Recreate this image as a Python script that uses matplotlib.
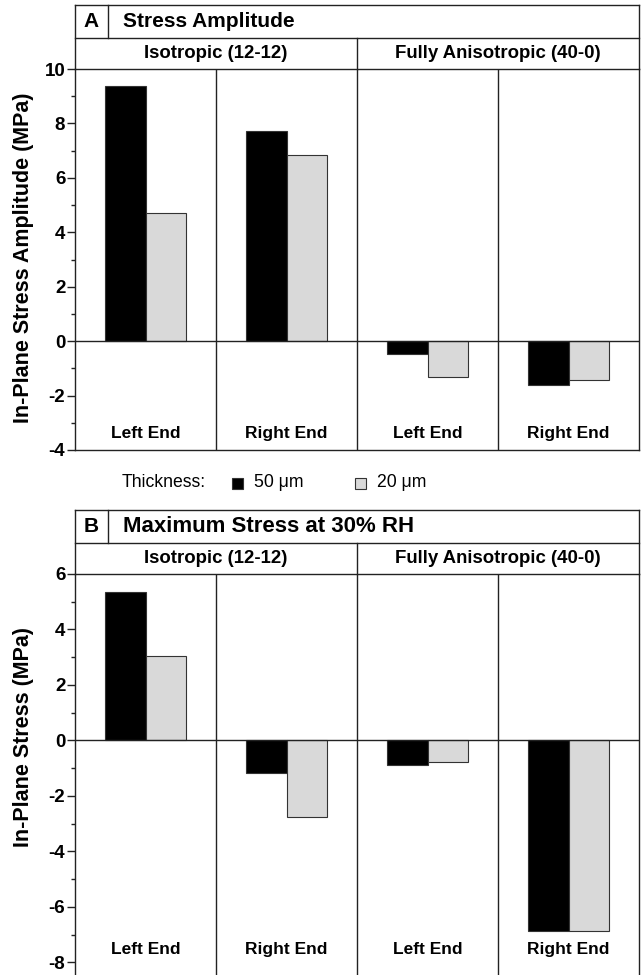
import matplotlib
matplotlib.use("Agg")
import matplotlib.pyplot as plt
from matplotlib.lines import Line2D
from matplotlib.patches import Rectangle
from matplotlib.ticker import MultipleLocator

plt.rcParams['font.family'] = ['Liberation Sans', 'DejaVu Sans']
plt.rcParams['axes.unicode_minus'] = False

# Datos de las dos figuras
extremos = ["Left End", "Right End", "Left End", "Right End"]
laminados = ["Isotropic (12-12)", "Fully Anisotropic (40-0)"]
espesores = ["50 \u03bcm", "20 \u03bcm"]

amplitud_50 = [9.38, 7.71, -0.49, -1.62]
amplitud_20 = [4.72, 6.85, -1.31, -1.43]

maximo_50 = [5.35, -1.18, -0.87, -6.88]
maximo_20 = [3.06, -2.76, -0.78, -6.88]

W, H = 641, 975
fig = plt.figure(figsize=(W / 100, H / 100), dpi=100)
fig.patch.set_facecolor("white")

COLOR_LINEA = "#222222"
COLORES = ["black", "#d9d9d9"]


def fx(px):
    return px / W


def fy(py):
    return 1 - py / H


def linea(x0, y0, x1, y1):
    fig.add_artist(Line2D([fx(x0), fx(x1)], [fy(y0), fy(y1)],
                          color=COLOR_LINEA, lw=1.0, transform=fig.transFigure))


def panel(izq, der, arriba, abajo, ylim, yticks, v50, v20, letra, titulo,
          ylabel, y_texto, y_label, tam_titulo=15):
    # ejes principales en pixeles
    ax = fig.add_axes([fx(izq), fy(abajo), fx(der) - fx(izq), fy(arriba) - fy(abajo)])
    x = range(len(extremos))
    ancho = 0.29
    ax.bar([i - ancho / 2 for i in x], v50, ancho, color=COLORES[0],
           edgecolor="#333333", linewidth=0.8, zorder=3)
    ax.bar([i + ancho / 2 for i in x], v20, ancho, color=COLORES[1],
           edgecolor="#333333", linewidth=0.8, zorder=3)
    ax.set_xlim(-0.5, 3.5)
    ax.set_ylim(*ylim)
    ax.axhline(0, color=COLOR_LINEA, lw=1.0, zorder=4)
    for d in [0.5, 1.5, 2.5]:
        ax.axvline(d, color=COLOR_LINEA, lw=1.0, zorder=2)
    for s in ax.spines.values():
        s.set_color(COLOR_LINEA)
        s.set_linewidth(1.0)
    ax.set_xticks([])
    ax.yaxis.set_major_locator(MultipleLocator(2))
    ax.yaxis.set_minor_locator(MultipleLocator(1))
    ax.set_yticks(yticks)
    ax.tick_params(axis="y", which="major", length=5.5, width=1.0, color=COLOR_LINEA,
                   labelsize=13.5, pad=1.5)
    ax.tick_params(axis="y", which="minor", length=2.8, width=1.0, color=COLOR_LINEA)
    for t in ax.get_yticklabels():
        t.set_fontweight("bold")
    for i, nombre in enumerate(extremos):
        ax.text(i, y_texto, nombre, ha="center", va="center",
                fontsize=12.5, fontweight="bold", zorder=5)

    # cabecera con la letra, el titulo y los laminados
    fila1 = arriba - 64
    fila2 = arriba - 31
    linea(izq, fila1, der, fila1)
    linea(izq, fila2, der, fila2)
    linea(izq, fila1, izq, arriba)
    linea(der, fila1, der, arriba)
    linea(izq + 33, fila1, izq + 33, fila2)
    medio = (izq + der) / 2
    linea(medio, fila2, medio, arriba)
    fig.text(fx(izq + 16.5), fy((fila1 + fila2) / 2), letra, ha="center", va="center",
             fontsize=15, fontweight="bold")
    fig.text(fx(izq + 48), fy((fila1 + fila2) / 2), titulo, ha="left", va="center",
             fontsize=tam_titulo, fontweight="bold")
    fig.text(fx((izq + medio) / 2), fy((fila2 + arriba) / 2), laminados[0],
             ha="center", va="center", fontsize=13.4, fontweight="bold")
    fig.text(fx((medio + der) / 2), fy((fila2 + arriba) / 2), laminados[1],
             ha="center", va="center", fontsize=13.4, fontweight="bold")
    fig.text(fx(24), fy(y_label), ylabel, rotation=90, ha="center", va="center",
             fontsize=15.5, fontweight="bold")
    return ax


panel(75, 639, 69, 450, (-4, 10), range(-4, 11, 2), amplitud_50, amplitud_20,
      "A", "Stress Amplitude", "In-Plane Stress Amplitude (MPa)", -3.4, 258)
panel(75, 639, 574, 979, (-8.6, 6), range(-8, 7, 2), maximo_50, maximo_20,
      "B", "Maximum Stress at 30% RH", "In-Plane Stress (MPa)", -7.55, 737,
      tam_titulo=16)

# leyenda de espesores
y_ley = 483
fig.text(fx(122), fy(y_ley), "Thickness:", ha="left", va="center", fontsize=12.7)
for xp, color, etiqueta in zip([232, 355], COLORES, espesores):
    fig.add_artist(Rectangle((fx(xp), fy(y_ley + 6)), fx(11), 11 / H,
                             facecolor=color, edgecolor="#333333", lw=0.8,
                             transform=fig.transFigure))
    fig.text(fx(xp + 22), fy(y_ley), etiqueta, ha="left", va="center", fontsize=12.7)

fig.savefig("out.png", dpi=100, facecolor="white")
